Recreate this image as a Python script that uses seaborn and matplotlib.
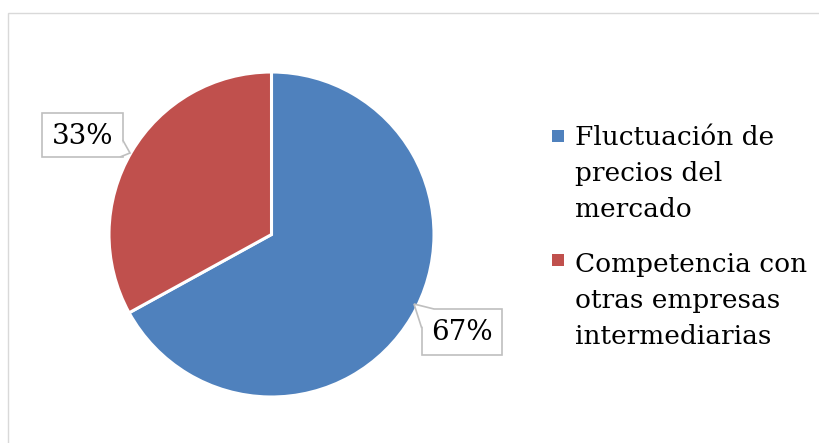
import matplotlib
matplotlib.use("Agg")
from matplotlib import pyplot as plt
from matplotlib.patches import Rectangle, Polygon
import seaborn as sns

categories = ["Fluctuación de\nprecios del\nmercado", "Competencia con\notras empresas\nintermediarias"]
values = [67, 33]
pct_labels = ["67%", "33%"]
colors = ["#4F81BD", "#C0504D"]

sns.set_theme(style="white")
plt.rcParams["font.family"] = ["DejaVu Serif"]

W, H = 820, 443
fig = plt.figure(figsize=(W / 100, H / 100), dpi=100)


def fx(x):
    return x / W


def fy(y):
    return 1 - y / H


# outer chart border (only top/left visible)
fig.patches.append(Rectangle((fx(8), fy(460)), fx(830) - fx(8), fy(13) - fy(460),
                             transform=fig.transFigure, fill=False, edgecolor="#D9D9D9", linewidth=1))

# pie area
cx, cy, r = 271.5, 234.5, 162.5
ax = fig.add_axes([fx(cx - r), fy(cy + r), 2 * r / W, 2 * r / H])
ax.pie(values, colors=colors, startangle=90, counterclock=False,
       wedgeprops=dict(edgecolor="white", linewidth=2.2))
ax.set_xlim(-1, 1)
ax.set_ylim(-1, 1)
ax.set_aspect("auto")
ax.axis("off")

# callout labels: box (left, top, right, bottom) and pointer
boxes = [(421.7, 309, 501.7, 355), (42, 113, 122.7, 157)]
pointers = [[(421.7, 328), (414, 304), (434, 309)],
            [(122.7, 140), (130, 153), (120, 157)]]
for lab, (l, t, rr, b), pts in zip(pct_labels, boxes, pointers):
    fig.patches.append(Rectangle((fx(l), fy(b)), fx(rr) - fx(l), fy(t) - fy(b),
                                 transform=fig.transFigure, facecolor="white",
                                 edgecolor="#BFBFBF", linewidth=1.2, zorder=3))
    fig.patches.append(Polygon([(fx(px), fy(py)) for px, py in pts], closed=False,
                               transform=fig.transFigure, facecolor="white",
                               edgecolor="#BFBFBF", linewidth=1.2, zorder=4))
    fig.text(fx((l + rr) / 2), fy((t + b) / 2 + 1), lab, ha="center", va="center",
             fontsize=20, color="black", zorder=5)

# legend drawn by hand so the marker sits on the first line
legend_tops = [130, 254]
first_baselines = [145, 272]
for cat, col, top, base in zip(categories, colors, legend_tops, first_baselines):
    fig.patches.append(Rectangle((fx(552), fy(top + 12)), 12 / W, 12 / H,
                                 transform=fig.transFigure, facecolor=col, edgecolor="none"))
    for i, line in enumerate(cat.split("\n")):
        fig.text(fx(575), fy(base + i * 36), line, ha="left", va="baseline",
                 fontsize=19, color="black")

fig.savefig("out.png", dpi=100, facecolor="white")
